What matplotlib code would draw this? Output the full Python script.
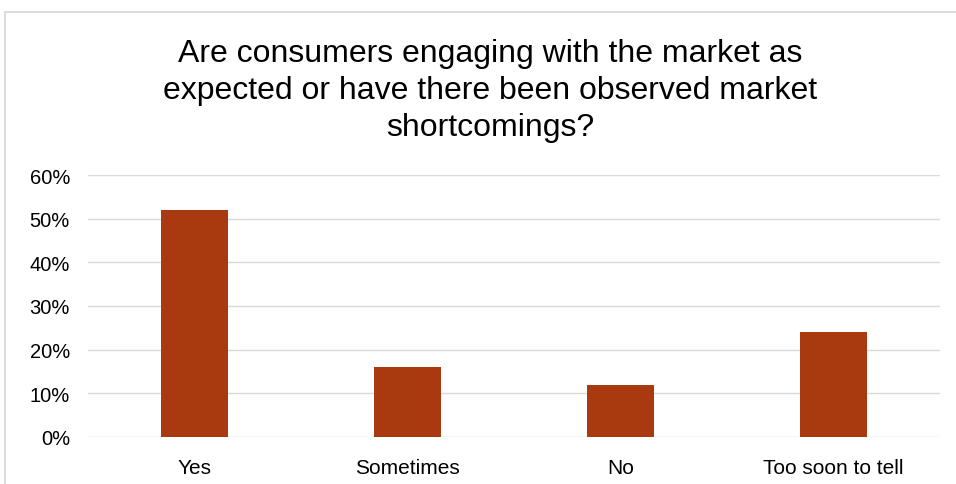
import matplotlib.pyplot as plt
from matplotlib.patches import Rectangle
from matplotlib.ticker import PercentFormatter

plt.rcParams['font.family'] = ['Liberation Sans', 'DejaVu Sans']

categories = ["Yes", "Sometimes", "No", "Too soon to tell"]
shares = [52, 16, 12, 24]
yticks = [0, 10, 20, 30, 40, 50, 60]

W, H = 956, 485
fig = plt.figure(figsize=(W / 100, H / 100), dpi=100)

# light chart frame, running off the right and bottom edges
fig.patches.append(Rectangle((4.5 / W, -0.1), 1.2, 1.1 - 12.5 / H,
                             transform=fig.transFigure, fill=False,
                             edgecolor="#D9D9D9", linewidth=1.3))

ax = fig.add_axes([88 / W, 1 - 438 / H, (940 - 88) / W, (438 - 176) / H])
ax.bar(categories, shares, width=0.315, color="#A93A10", zorder=3)

ax.set_ylim(0, 60)
ax.set_yticks(yticks)
ax.yaxis.set_major_formatter(PercentFormatter(decimals=0))
ax.set_xlim(-0.5, len(categories) - 0.5)
ax.grid(axis="y", color="#D9D9D9", linewidth=1)
for s in ax.spines.values():
    s.set_visible(False)
ax.tick_params(length=0, colors="#000000")
ax.tick_params(axis="y", pad=13, labelsize=14.5)
ax.tick_params(axis="x", pad=15, labelsize=15)

fig.text(490 / W, 1 - 91 / H,
         "Are consumers engaging with the market as\n"
         "expected or have there been observed market\n"
         "shortcomings?",
         ha="center", va="center", fontsize=23, linespacing=1.3)

fig.savefig("out.png", dpi=100)
